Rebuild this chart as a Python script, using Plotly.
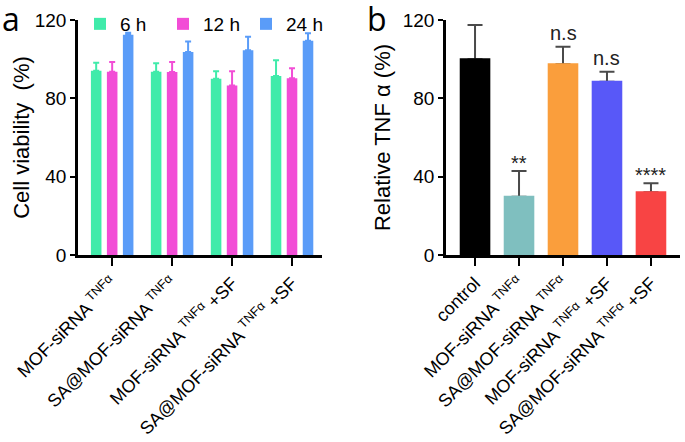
import plotly.graph_objects as go

# ---- data: panel a ----
groups_a = ["MOF-siRNA <sup>TNFα</sup>", "SA@MOF-siRNA <sup>TNFα</sup>",
            "MOF-siRNA <sup>TNFα</sup> +SF", "SA@MOF-siRNA <sup>TNFα</sup> +SF"]
series_names = ["6 h", "12 h", "24 h"]
vals_6h = [94.1, 93.6, 90.0, 91.4]
err_6h = [4.1, 4.3, 3.8, 8.0]
vals_12h = [93.6, 93.5, 86.5, 90.2]
err_12h = [5.0, 5.1, 7.3, 5.1]
vals_24h = [112.5, 103.7, 104.5, 109.4]
err_24h = [1.0, 5.3, 7.0, 3.8]

# ---- data: panel b ----
groups_b = ["control", "MOF-siRNA <sup>TNFα</sup>", "SA@MOF-siRNA <sup>TNFα</sup>",
            "MOF-siRNA <sup>TNFα</sup> +SF", "SA@MOF-siRNA <sup>TNFα</sup> +SF"]
vals_b = [100.0, 29.8, 97.4, 88.5, 32.0]
err_b = [17.4, 13.1, 9.0, 5.1, 4.6]
sig_b = ["", "**", "n.s", "n.s", "****"]

colors_a = ["#40EBAA", "#F24DD6", "#5A9CF8"]
colors_b = ["#000000", "#7FBFBF", "#FA9E3C", "#5858F8", "#F84444"]

FONT = "Liberation Sans, Arial, sans-serif"
W, H = 685, 442

fig = go.Figure()
xa = list(range(len(groups_a)))
for name, v, e, c in zip(series_names, [vals_6h, vals_12h, vals_24h],
                         [err_6h, err_12h, err_24h], colors_a):
    fig.add_trace(go.Bar(
        x=xa, y=v, name=name, marker=dict(color=c, line=dict(width=0)),
        error_y=dict(type="data", array=e, arrayminus=[0] * len(e), symmetric=False,
                     color=c, thickness=2, width=3),
        xaxis="x", yaxis="y"))

xb = list(range(len(groups_b)))
# error bars (drawn first, under the bars so only the upper whisker shows)
fig.add_trace(go.Bar(
    x=xb, y=vals_b, width=0.65, offset=-0.325, showlegend=False, hoverinfo="skip",
    marker=dict(color="rgba(0,0,0,0)", line=dict(width=0)),
    error_y=dict(type="data", array=err_b, arrayminus=[0] * len(err_b), symmetric=False,
                 color="#4a4a4a", thickness=2, width=7.5),
    xaxis="x2", yaxis="y2"))
fig.add_trace(go.Bar(
    x=xb, y=vals_b, width=0.65, offset=-0.325, showlegend=False,
    marker=dict(color=colors_b, line=dict(width=2, color=colors_b)),
    xaxis="x2", yaxis="y2"))

annotations = []
for i, (v, e, s) in enumerate(zip(vals_b, err_b, sig_b)):
    if s:
        annotations.append(dict(x=i, y=v + e, xref="x2", yref="y2", text=s,
                                showarrow=False, yanchor="bottom",
                                yshift=(-5 if "*" in s else 1),
                                font=dict(size=20, color="#222", family=FONT)))
annotations.append(dict(x=0.0, y=1.0, xref="paper", yref="paper", text="a",
                        showarrow=False, xanchor="left", yanchor="top", yshift=5,
                        font=dict(size=32, color="black", family="Open Sans, sans-serif")))
annotations.append(dict(x=365 / W, y=1.0, xref="paper", yref="paper", text="b",
                        showarrow=False, xanchor="left", yanchor="top", yshift=5,
                        font=dict(size=32, color="black", family="Open Sans, sans-serif")))

ydom = [1 - 255 / H, 1 - 20 / H]
axis_common = dict(showline=True, linecolor="black", linewidth=2.5, ticks="outside",
                   tickwidth=2, tickcolor="black", showgrid=False, zeroline=False,
                   automargin=False)
xtickfont = dict(size=18, color="black", family=FONT)
ytickfont = dict(size=19, color="black", family=FONT)

fig.update_layout(
    width=W, height=H, margin=dict(l=0, r=0, t=0, b=0, autoexpand=False),
    paper_bgcolor="white", plot_bgcolor="white",
    barmode="group", bargap=0.2, bargroupgap=0.34,
    font=dict(family=FONT, color="black"),
    xaxis=dict(domain=[78 / W, 322 / W], range=[-0.57, 3.5], tickmode="array",
               tickvals=xa, ticktext=groups_a, tickangle=-45, anchor="y", ticklen=8,
               tickfont=xtickfont, **axis_common),
    yaxis=dict(domain=ydom, range=[0, 120], tickvals=[0, 40, 80, 120], anchor="x",
               ticklen=5, tickfont=ytickfont,
               title=dict(text="Cell viability  (%)", standoff=0,
                          font=dict(size=22, family=FONT, color="black")),
               **axis_common),
    xaxis2=dict(domain=[446 / W, 680 / W], range=[-0.66, 4.66], tickmode="array",
                tickvals=xb, ticktext=groups_b, tickangle=-45, anchor="y2", ticklen=8,
                tickfont=xtickfont, **axis_common),
    yaxis2=dict(domain=ydom, range=[0, 120], tickvals=[0, 40, 80, 120], anchor="x2",
                ticklen=5, tickfont=ytickfont,
                title=dict(text="Relative TNF α (%)", standoff=7,
                           font=dict(size=22, family=FONT, color="black")),
                **axis_common),
    legend=dict(orientation="h", x=80 / W, xanchor="left", y=1 - 5 / H, yanchor="top",
                entrywidth=38, font=dict(size=19, family=FONT, color="black"),
                bgcolor="rgba(0,0,0,0)", itemsizing="constant"),
    annotations=annotations,
)

fig.write_html("out.html", config={"displayModeBar": False},
               post_script="document.body.style.margin='0';")
